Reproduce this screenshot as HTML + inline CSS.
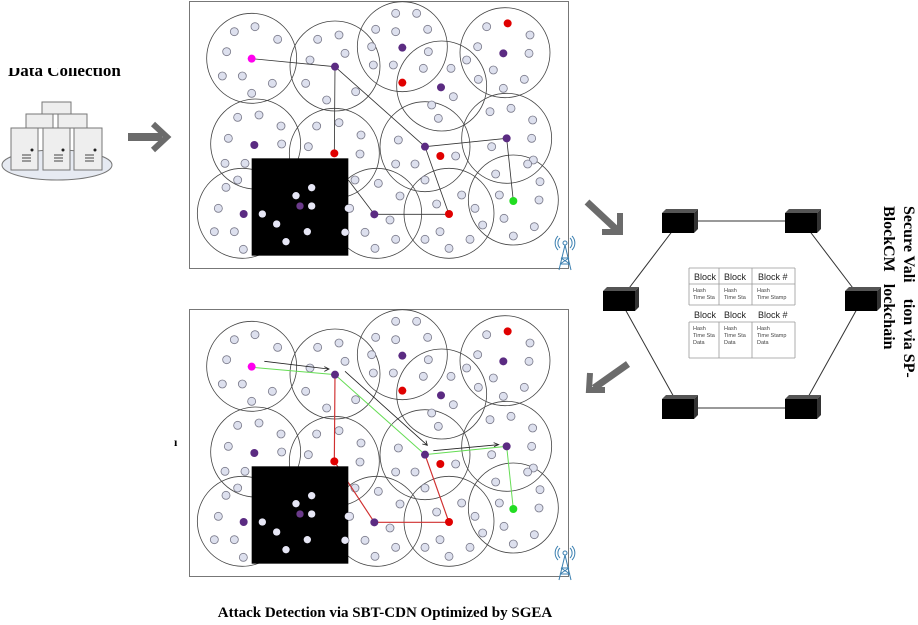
<!DOCTYPE html>
<html><head><meta charset="utf-8"><style>
html,body{margin:0;padding:0;background:#fff;width:918px;height:625px;overflow:hidden}
svg{position:absolute;left:0;top:0}
</style></head><body>
<svg width="918" height="625" viewBox="0 0 918 625" xmlns="http://www.w3.org/2000/svg" font-family="Liberation Serif, serif">
<defs>
<clipPath id="dc"><rect x="0" y="68" width="200" height="20"/></clipPath>
<g id="cube"><path d="M0 4L4 0H36L32 4Z" fill="#555"/><path d="M32 4L36 0V20L32 24Z" fill="#333"/><rect x="0" y="4" width="32" height="20" fill="#000"/></g>
<g id="bigc" fill="none" stroke="#444" stroke-width="2.4">
<circle cx="200" cy="175" r="135"/><circle cx="450" cy="198" r="135"/><circle cx="652" cy="140" r="135"/>
<circle cx="770" cy="258" r="135"/><circle cx="960" cy="158" r="135"/><circle cx="212" cy="432" r="135"/>
<circle cx="448" cy="460" r="135"/><circle cx="720" cy="440" r="135"/><circle cx="965" cy="415" r="135"/>
<circle cx="172" cy="640" r="135"/><circle cx="575" cy="640" r="135"/><circle cx="792" cy="640" r="135"/>
<circle cx="985" cy="600" r="135"/>
</g>
<g id="light" fill="#dde0ee" stroke="#7a7a8a" stroke-width="2.5">
<circle cx="148" cy="95" r="12"/><circle cx="210" cy="80" r="12"/><circle cx="278" cy="118" r="12"/><circle cx="125" cy="155" r="12"/><circle cx="112" cy="228" r="12"/><circle cx="172" cy="228" r="12"/><circle cx="262" cy="250" r="12"/><circle cx="200" cy="280" r="12"/>
<circle cx="398" cy="118" r="12"/><circle cx="462" cy="105" r="12"/><circle cx="480" cy="160" r="12"/><circle cx="375" cy="180" r="12"/><circle cx="362" cy="250" r="12"/><circle cx="425" cy="300" r="12"/><circle cx="512" cy="275" r="12"/>
<circle cx="632" cy="40" r="12"/><circle cx="695" cy="40" r="12"/><circle cx="572" cy="88" r="12"/><circle cx="632" cy="95" r="12"/><circle cx="728" cy="88" r="12"/><circle cx="560" cy="140" r="12"/><circle cx="565" cy="195" r="12"/><circle cx="625" cy="195" r="12"/><circle cx="730" cy="155" r="12"/><circle cx="715" cy="205" r="12"/><circle cx="798" cy="205" r="12"/><circle cx="805" cy="290" r="12"/><circle cx="740" cy="315" r="12"/><circle cx="760" cy="355" r="12"/>
<circle cx="905" cy="80" r="12"/><circle cx="1035" cy="105" r="12"/><circle cx="878" cy="140" r="12"/><circle cx="1032" cy="160" r="12"/><circle cx="845" cy="180" r="12"/><circle cx="925" cy="210" r="12"/><circle cx="880" cy="238" r="12"/><circle cx="1018" cy="238" r="12"/><circle cx="955" cy="265" r="12"/>
<circle cx="158" cy="352" r="12"/><circle cx="222" cy="345" r="12"/><circle cx="288" cy="378" r="12"/><circle cx="130" cy="415" r="12"/><circle cx="290" cy="432" r="12"/><circle cx="120" cy="490" r="12"/><circle cx="180" cy="490" r="12"/><circle cx="395" cy="378" r="12"/><circle cx="462" cy="368" r="12"/><circle cx="370" cy="440" r="12"/><circle cx="528" cy="405" r="12"/><circle cx="525" cy="462" r="12"/>
<circle cx="640" cy="420" r="12"/><circle cx="812" cy="468" r="12"/><circle cx="632" cy="492" r="12"/><circle cx="690" cy="492" r="12"/><circle cx="915" cy="335" r="12"/><circle cx="978" cy="325" r="12"/><circle cx="1043" cy="360" r="12"/><circle cx="920" cy="440" r="12"/><circle cx="1040" cy="415" r="12"/><circle cx="1045" cy="480" r="12"/><circle cx="932" cy="522" r="12"/><circle cx="1028" cy="492" r="12"/>
<circle cx="158" cy="540" r="12"/><circle cx="123" cy="562" r="12"/><circle cx="100" cy="625" r="12"/><circle cx="88" cy="695" r="12"/><circle cx="148" cy="695" r="12"/><circle cx="175" cy="748" r="12"/>
<circle cx="510" cy="540" r="12"/><circle cx="580" cy="550" r="12"/><circle cx="645" cy="588" r="12"/><circle cx="494" cy="625" r="12"/><circle cx="615" cy="660" r="12"/><circle cx="480" cy="697" r="12"/><circle cx="540" cy="697" r="12"/><circle cx="632" cy="718" r="12"/><circle cx="570" cy="745" r="12"/>
<circle cx="720" cy="540" r="12"/><circle cx="830" cy="585" r="12"/><circle cx="755" cy="612" r="12"/><circle cx="870" cy="625" r="12"/><circle cx="893" cy="675" r="12"/><circle cx="765" cy="695" r="12"/><circle cx="720" cy="718" r="12"/><circle cx="855" cy="718" r="12"/><circle cx="792" cy="745" r="12"/>
<circle cx="1065" cy="545" r="12"/><circle cx="943" cy="585" r="12"/><circle cx="1062" cy="600" r="12"/><circle cx="957" cy="655" r="12"/><circle cx="1048" cy="680" r="12"/><circle cx="985" cy="708" r="12"/>
</g>
<g id="spec">
<rect x="200" y="475" width="290" height="292" fill="#000"/>
<g fill="#e6e6f5"><circle cx="380" cy="563" r="11"/><circle cx="333" cy="587" r="11"/><circle cx="380" cy="618" r="11"/><circle cx="232" cy="642" r="11"/><circle cx="275" cy="672" r="11"/><circle cx="367" cy="695" r="11"/><circle cx="303" cy="725" r="11"/><circle cx="480" cy="697" r="11"/><circle cx="490" cy="625" r="11"/></g>
<circle cx="345" cy="618" r="11" fill="#6a3a8a"/>
<g fill="#5b2b82"><circle cx="450" cy="200" r="12"/><circle cx="652" cy="143" r="12"/><circle cx="955" cy="160" r="12"/><circle cx="768" cy="262" r="12"/><circle cx="208" cy="435" r="12"/><circle cx="720" cy="440" r="12"/><circle cx="965" cy="415" r="12"/><circle cx="176" cy="642" r="12"/><circle cx="568" cy="643" r="12"/></g>
<g fill="#e00000"><circle cx="968" cy="70" r="12"/><circle cx="652" cy="248" r="12"/><circle cx="448" cy="460" r="12"/><circle cx="766" cy="468" r="12"/><circle cx="792" cy="642" r="12"/></g>
<circle cx="200" cy="176" r="12" fill="#ff00ee"/>
<circle cx="985" cy="603" r="12" fill="#22dd22"/>
</g>
<g id="tower" fill="none" stroke="#3a7fb0" stroke-width="1">
<circle cx="565" cy="243" r="2"/><path d="M560 238a7 7 0 0 0 0 10M570 238a7 7 0 0 1 0 10M558 236a10 10 0 0 0 0 14M572 236a10 10 0 0 1 0 14"/>
<path d="M565 245L559 270M565 245L571 270M561 258h8M560 264h10M561 258L570 264M569 258L560 264"/>
</g>
</defs>

<text x="8" y="76" font-size="17" font-weight="bold" clip-path="url(#dc)">Data Collection</text>
<ellipse cx="57" cy="165" rx="55" ry="15" fill="#e6eaf2" stroke="#777"/>
<g fill="#eeeeee" stroke="#777" stroke-width="1">
<rect x="42" y="102" width="29" height="12"/><rect x="26" y="114" width="27" height="14"/><rect x="58" y="114" width="29" height="14"/>
<rect x="11" y="128" width="27" height="42"/><rect x="43" y="128" width="27" height="42"/><rect x="74" y="128" width="28" height="42"/>
</g>
<g fill="#222"><circle cx="32" cy="150" r="1.5"/><circle cx="63" cy="150" r="1.5"/><circle cx="95" cy="150" r="1.5"/></g>
<g stroke="#444" stroke-width="1"><path d="M22 155h9M22 158h9M22 161h9M54 155h9M54 158h9M54 161h9M85 155h9M85 158h9M85 161h9"/></g>

<g stroke="#6b6b6b" fill="none" stroke-linejoin="miter">
<path d="M128 137H162" stroke-width="8"/><path d="M153 124L167 137L153 150" stroke-width="6"/>
<path d="M587 202L617 230" stroke-width="7"/><path d="M602 232H620V213" stroke-width="6"/>
<path d="M628 364L594 388" stroke-width="7"/><path d="M590 373L589 390L605 390" stroke-width="6"/>
</g>

<rect x="189.5" y="1.5" width="379" height="267" fill="none" stroke="#777" stroke-width="1"/>
<g transform="translate(185,0) scale(0.33333)">
<use href="#bigc"/><use href="#light"/>
<g stroke="#333" stroke-width="2.5" fill="none">
<path d="M200 176L450 200M450 200L448 460M450 200L720 440L965 415L985 603M720 440L792 643M568 643L792 643M490 540L568 643"/>
</g>
<use href="#spec"/>
</g>
<use href="#tower"/>

<rect x="189.5" y="309.5" width="379" height="267" fill="none" stroke="#777" stroke-width="1"/>
<g transform="translate(185,308) scale(0.33333)">
<use href="#bigc"/><use href="#light"/>
<g stroke="#66dd55" stroke-width="3" fill="none"><path d="M200 178L450 200L720 440L965 415L985 603"/></g>
<g stroke="#d03030" stroke-width="3.5" fill="none"><path d="M450 200L448 460L568 643L792 643L720 440"/></g>
<g stroke="#222" stroke-width="2.5" fill="none"><path d="M238 160L430 183M418 176L432 183L418 190M480 190L725 410M712 408L727 412L723 398M745 428L940 410M926 404L941 410L927 416"/></g>
<use href="#spec"/>
</g>
<use href="#tower" transform="translate(0,310)"/>
<text x="174" y="446" font-size="12" font-weight="bold">ı</text>

<g stroke="#333" stroke-width="1" fill="none">
<path d="M680 221H802L862 300L802 408H680L620 300Z"/>
</g>
<use href="#cube" transform="translate(662,209)"/>
<use href="#cube" transform="translate(785,209)"/>
<use href="#cube" transform="translate(603,287)"/>
<use href="#cube" transform="translate(845,287)"/>
<use href="#cube" transform="translate(662,395)"/>
<use href="#cube" transform="translate(785,395)"/>

<g font-family="Liberation Sans, sans-serif">
<rect x="689" y="268" width="106" height="90" fill="#fff"/>
<g stroke="#999" stroke-width="0.8" fill="none">
<path d="M689 268V305M719 268V305M752 268V305M795 268V305M689 322V358M719 322V358M752 322V358M795 322V358"/>
<path d="M689 268H795M689 284H795M689 305H795M689 322H795M689 358H795"/>
</g>
<g font-size="9" fill="#222"><text x="694" y="280">Block</text><text x="724" y="280">Block</text><text x="758" y="280">Block #</text>
<text x="694" y="318">Block</text><text x="724" y="318">Block</text><text x="758" y="318">Block #</text></g>
<g font-size="5.5" fill="#444">
<text x="693" y="292">Hash</text><text x="693" y="299">Time Sta</text><text x="724" y="292">Hash</text><text x="724" y="299">Time Sta</text><text x="757" y="292">Hash</text><text x="757" y="299">Time Stamp</text>
<text x="693" y="330">Hash</text><text x="693" y="337">Time Sta</text><text x="693" y="344">Data</text>
<text x="724" y="330">Hash</text><text x="724" y="337">Time Sta</text><text x="724" y="344">Data</text>
<text x="757" y="330">Hash</text><text x="757" y="337">Time Stamp</text><text x="757" y="344">Data</text>
</g>
</g>

<g font-size="16" font-weight="bold">
<text transform="translate(904,206) rotate(90)" xml:space="preserve">Secure Vali    tion via SP-</text>
<text transform="translate(884,206) rotate(90)" xml:space="preserve">BlockCM   lockchain</text>
</g>

<text x="385" y="617" font-size="15" font-weight="bold" text-anchor="middle">Attack Detection via SBT-CDN Optimized by SGEA</text>
</svg>
</body></html>
